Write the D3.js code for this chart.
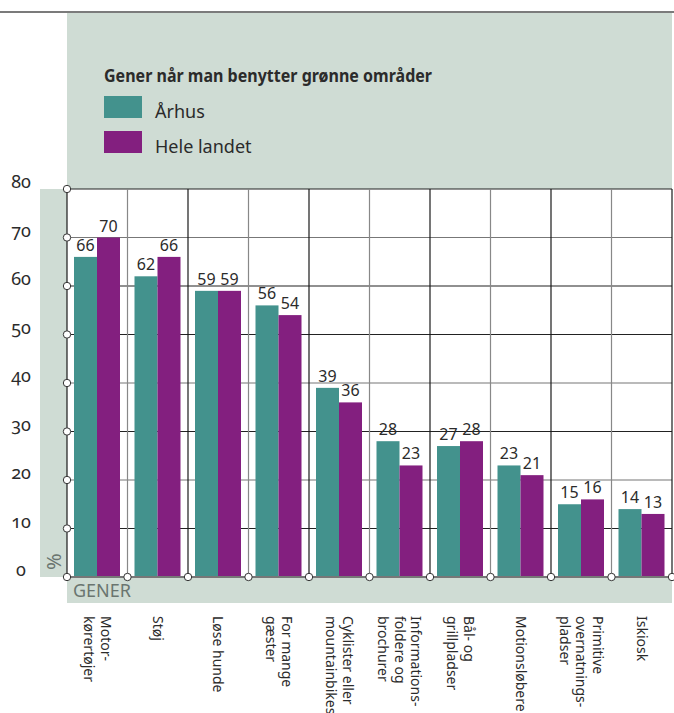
<!DOCTYPE html>
<html>
<head>
<meta charset="utf-8">
<script src="https://cdn.jsdelivr.net/npm/d3@7/dist/d3.min.js"></script>
<style>
  html, body { margin: 0; padding: 0; background: #fff; }
  svg { display: block; font-family: "Noto Sans", "Open Sans", sans-serif; }
</style>
</head>
<body>
<svg id="chart" width="674" height="713"></svg>
<script>
// ---- data ----
const categories = [
  ["Motor-", "kørertøjer"],
  ["Støj"],
  ["Løse hunde"],
  ["For mange", "gæster"],
  ["Cyklister eller", "mountainbikes"],
  ["Informations-", "foldere og", "brochurer"],
  ["Bål- og", "grillpladser"],
  ["Motionsløbere"],
  ["Primitive", "overnatnings-", "pladser"],
  ["Iskiosk"]
];
const aarhus = [66, 62, 59, 56, 39, 28, 27, 23, 15, 14];
const heleLandet = [70, 66, 59, 54, 36, 23, 28, 21, 16, 13];
const seriesNames = ["Århus", "Hele landet"];
const yTicks = [0, 10, 20, 30, 40, 50, 60, 70, 80];
const chartTitle = "Gener når man benytter grønne områder";
const xAxisTitle = "GENER";
const yAxisTitle = "%";

// ---- styles ----
const colors = ["#43928d", "#831f7f"];
const panel = "#cfdcd4";
const textCol = "#2b2b2b";

const svg = d3.select("#chart");
const L = 67, R = 672, T = 189, B = 577;

const x = d3.scaleBand().domain(d3.range(categories.length)).range([L, R]);
const xSub = d3.scaleBand().domain([0, 1]).range([7, 53]);
const y = d3.scaleLinear().domain([0, 80]).range([B, T]);

// top rule
svg.append("rect").attr("x", 0).attr("y", 11).attr("width", 674).attr("height", 2).attr("fill", "#7b7b7b");
// top panel
svg.append("rect").attr("x", L).attr("y", 13).attr("width", R - L).attr("height", T - 13).attr("fill", panel);
// left strip
svg.append("rect").attr("x", 40).attr("y", T).attr("width", L - 40).attr("height", B - T).attr("fill", panel);
// bottom strip
svg.append("rect").attr("x", L).attr("y", B).attr("width", R - L).attr("height", 26).attr("fill", panel);
// plot background
svg.append("rect").attr("x", L).attr("y", T).attr("width", R - L).attr("height", B - T).attr("fill", "#fff");

// legend
const lg = svg.append("g");
lg.append("text").attr("x", 104).attr("y", 82).attr("font-weight", "bold").attr("font-size", 17.5)
  .attr("fill", textCol).attr("textLength", 328).attr("lengthAdjust", "spacingAndGlyphs").text(chartTitle);
seriesNames.forEach((s, i) => {
  lg.append("rect").attr("x", 104).attr("y", 96 + i * 35).attr("width", 38).attr("height", 22).attr("fill", colors[i]);
  lg.append("text").attr("x", 155).attr("y", 118 + i * 35).attr("font-size", 18).attr("fill", textCol).text(s);
});

// grid: horizontal
const hColor = {80: "#222", 70: "#777", 60: "#222", 50: "#222", 40: "#777", 30: "#222", 20: "#777", 10: "#222"};
svg.append("g").selectAll("line").data(yTicks.filter(d => d > 0)).join("line")
  .attr("x1", L).attr("x2", R).attr("y1", d => y(d)).attr("y2", d => y(d))
  .attr("stroke", d => hColor[d]).attr("stroke-width", 1.2);
// grid: vertical
const bounds = d3.range(categories.length + 1).map(i => i < categories.length ? x(i) : R);
svg.append("g").selectAll("line").data(bounds).join("line")
  .attr("x1", d => d).attr("x2", d => d).attr("y1", T).attr("y2", B)
  .attr("stroke", (d, i) => i % 2 === 0 ? "#1a1a1a" : "#888").attr("stroke-width", 1.2);

// bars
const series = [aarhus, heleLandet];
const bars = svg.append("g");
categories.forEach((c, ci) => {
  series.forEach((arr, si) => {
    const v = arr[ci];
    bars.append("rect")
      .attr("x", x(ci) + xSub(si)).attr("width", xSub.bandwidth())
      .attr("y", y(v)).attr("height", y(0) - y(v)).attr("fill", colors[si]);
    bars.append("text")
      .attr("x", x(ci) + xSub(si) + xSub.bandwidth() / 2).attr("y", y(v) - 6)
      .attr("text-anchor", "middle").attr("font-size", 16).attr("fill", textCol).text(v);
  });
});

// bottom axis line
svg.append("line").attr("x1", L).attr("x2", R).attr("y1", B).attr("y2", B).attr("stroke", "#777").attr("stroke-width", 2);

// circles
const circ = svg.append("g").attr("fill", "#fff").attr("stroke", "#333").attr("stroke-width", 1);
yTicks.forEach(t => circ.append("circle").attr("cx", L).attr("cy", y(t)).attr("r", 3.7));
bounds.slice(1).forEach(b => circ.append("circle").attr("cx", b).attr("cy", B).attr("r", 3.7));

// y tick labels
svg.append("g").selectAll("text").data(yTicks).join("text")
  .attr("x", 21).attr("y", d => y(d) - 1).attr("text-anchor", "middle")
  .attr("font-size", 18).attr("fill", textCol)
  .style("font-feature-settings", "'onum' 1").text(d => d);

// axis titles
svg.append("text").attr("x", 73).attr("y", 597).attr("font-size", 18).attr("fill", "#6a7570").text(xAxisTitle);
svg.append("text").attr("transform", "translate(61,570) rotate(-90)").attr("font-size", 20)
  .attr("fill", "#6a7570").text(yAxisTitle);

// x category labels (rotated)
const lh = 16.5;
const xl = svg.append("g");
categories.forEach((lines, ci) => {
  const cx = x(ci) + x.bandwidth() / 2;
  const n = lines.length;
  lines.forEach((ln, li) => {
    const bx = cx + ((n - 1) / 2 - li) * lh - 5;
    xl.append("text").attr("transform", `translate(${bx},616) rotate(90)`)
      .attr("font-size", 14).attr("fill", textCol).text(ln);
  });
});
</script>
</body>
</html>
